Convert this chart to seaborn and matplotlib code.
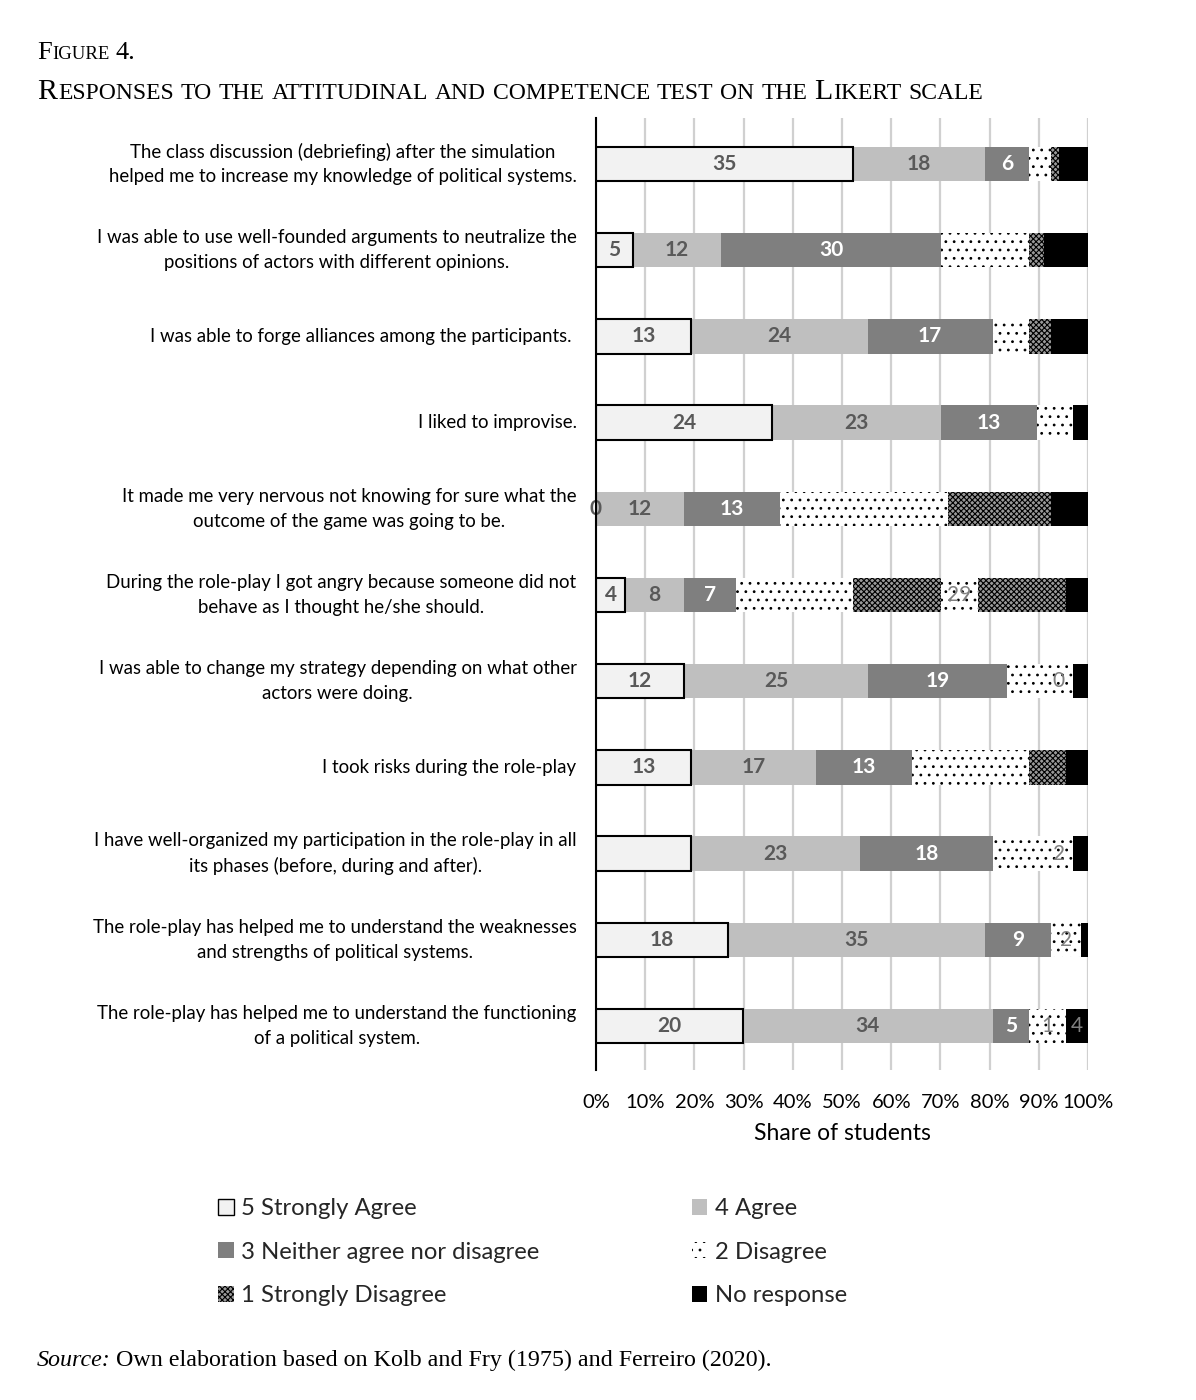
import numpy as np
import pandas as pd
import matplotlib
matplotlib.use("Agg")
import matplotlib.pyplot as plt
import seaborn as sns
from matplotlib.patches import Patch

# ---------------- data (counts of students, 67 per statement) ----------------
statements = [
    "The class discussion (debriefing) after the simulation\nhelped me to increase my knowledge of political systems.",
    "I was able to use well-founded arguments to neutralize the\npositions of actors with different opinions.",
    "I was able to forge alliances among the participants. ",
    "I liked to improvise.",
    "It made me very nervous not knowing for sure what the\noutcome of the game was going to be.",
    "During the role-play I got angry because someone did not\nbehave as I thought he/she should.",
    "I was able to change my strategy depending on what other\nactors were doing.",
    "I took risks during the role-play",
    "I have well-organized my participation in the role-play in all\nits phases (before, during and after).",
    "The role-play has helped me to understand the weaknesses\nand strengths of political systems.",
    "The role-play has helped me to understand the functioning\nof a political system.",
]

strongly_agree          = [35, 5, 13, 24, 0, 4, 12, 13, 13, 18, 20]
agree                   = [18, 12, 24, 23, 12, 8, 25, 17, 23, 35, 34]
neither                 = [6, 30, 17, 13, 13, 7, 19, 13, 18, 9, 5]
disagree                = [3, 12, 5, 5, 23, 16, 5, 16, 7, 0, 0]
strongly_disagree       = [1, 2, 3, 0, 14, 12, 0, 5, 0, 0, 0]
disagree_extra          = [0, 0, 0, 0, 0, 5, 4, 0, 4, 4, 5]
strongly_disagree_extra = [0, 0, 0, 0, 0, 12, 0, 0, 0, 0, 0]
no_response             = [4, 6, 5, 2, 5, 3, 2, 3, 2, 1, 3]

# data labels as printed in the chart
labels_strongly_agree = ["35", "5", "13", "24", "0", "4", "12", "13", "", "18", "20"]
labels_agree          = [str(v) for v in agree]
labels_neither        = [str(v) for v in neither]
labels_disagree_extra = ["", "", "", "", "", "29", "0", "", "2", "2", "1"]
labels_no_response    = ["", "", "", "", "", "", "", "", "", "", "4"]

series_names = ["5 Strongly Agree", "4 Agree", "3 Neither agree nor disagree",
                "2 Disagree", "1 Strongly Disagree", "2 Disagree (b)",
                "1 Strongly Disagree (b)", "No response"]
series_values = [strongly_agree, agree, neither, disagree, strongly_disagree,
                 disagree_extra, strongly_disagree_extra, no_response]
series_labels = [labels_strongly_agree, labels_agree, labels_neither, None, None,
                 labels_disagree_extra, None, labels_no_response]

# ---------------- styles ----------------
styles = {
    "5 Strongly Agree": dict(fc="#f2f2f2", ec="black", lw=1.5, hatch=None),
    "4 Agree": dict(fc="#bfbfbf", ec="#bfbfbf", lw=0, hatch=None),
    "3 Neither agree nor disagree": dict(fc="#7f7f7f", ec="#7f7f7f", lw=0, hatch=None),
    "2 Disagree": dict(fc="white", ec="black", lw=0, hatch=".."),
    "1 Strongly Disagree": dict(fc="#9a9a9a", ec="black", lw=0, hatch="xxxxxx"),
    "2 Disagree (b)": dict(fc="white", ec="black", lw=0, hatch=".."),
    "1 Strongly Disagree (b)": dict(fc="#9a9a9a", ec="black", lw=0, hatch="xxxxxx"),
    "No response": dict(fc="black", ec="black", lw=0, hatch=None),
}
label_colors = {"5 Strongly Agree": "#595959", "4 Agree": "#595959",
                "3 Neither agree nor disagree": "white",
                "2 Disagree (b)": "#808080", "No response": "#808080"}

sns.set_theme(style="white")
plt.rcParams["font.family"] = ["Lato", "DejaVu Sans"]
plt.rcParams["hatch.linewidth"] = 0.8

W, H = 1196, 1400
fig = plt.figure(figsize=(W / 100, H / 100), dpi=100)
ax = fig.add_axes([596 / W, 1 - 1070 / H, (1088 - 596) / W, (1070 - 118) / H])

# ---------------- build cumulative table ----------------
vals = np.array(series_values, dtype=float)          # (series, rows)
totals = vals.sum(axis=0)
pct = vals / totals
cum = np.cumsum(pct, axis=0)
left = cum - pct

rows = []
for si, name in enumerate(series_names):
    for ri, st in enumerate(statements):
        rows.append(dict(statement=st, series=name, cum=cum[si, ri]))
df = pd.DataFrame(rows)

# draw from the longest cumulative bar to the shortest (stacked look)
for name in reversed(series_names):
    sub = df[df["series"] == name]
    stl = styles[name]
    sns.barplot(data=sub, x="cum", y="statement", order=statements, orient="h",
                color=stl["fc"], saturation=1, width=0.4, errorbar=None,
                edgecolor=stl["ec"], linewidth=stl["lw"], hatch=stl["hatch"], ax=ax)

# data labels
for si, name in enumerate(series_names):
    labs = series_labels[si]
    if labs is None:
        continue
    for ri in range(len(statements)):
        if labs[ri] == "":
            continue
        xc = left[si, ri] + pct[si, ri] / 2
        bold = name in ("5 Strongly Agree", "4 Agree", "3 Neither agree nor disagree")
        ax.text(xc, ri, labs[ri], ha="center", va="center", fontsize=15,
                color=label_colors[name], fontweight="bold" if bold else "normal")

ax.set_xlim(0, 1)
ax.set_ylim(len(statements) - 1 + 0.51, -0.534)
ax.set_xticks(np.arange(0, 1.01, 0.1))
ax.set_xticklabels([f"{int(round(v * 100))}%" for v in np.arange(0, 1.01, 0.1)],
                   fontsize=14.5, color="black")
ax.set_xlabel("Share of students", fontsize=16.5, color="black", labelpad=9)
ax.set_ylabel("")
ax.tick_params(axis="x", length=0, pad=17)
ax.tick_params(axis="y", length=0, pad=14)
for t in ax.get_yticklabels():
    t.set_multialignment("center")
    t.set_verticalalignment("center")
    t.set_fontsize(13.4)
    t.set_linespacing(1.55)
    t.set_color("black")
ax.set_axisbelow(True)
ax.xaxis.grid(True, color="#d0d0d0", linewidth=1.6)
ax.yaxis.grid(False)
for s in ["top", "right", "bottom"]:
    ax.spines[s].set_visible(False)
ax.spines["left"].set_color("black")
ax.spines["left"].set_linewidth(1.5)
ax.spines["left"].set_zorder(5)

# ---------------- legend ----------------
legend_order = ["5 Strongly Agree", "3 Neither agree nor disagree", "1 Strongly Disagree",
                "4 Agree", "2 Disagree", "No response"]
handles = []
for name in legend_order:
    stl = styles[name]
    handles.append(Patch(facecolor=stl["fc"], edgecolor=stl["ec"],
                         linewidth=1.0 if name == "5 Strongly Agree" else 0,
                         hatch=stl["hatch"], label=name))
fig.legend(handles=handles, loc="upper left", bbox_to_anchor=(218 / W, 1 - 1198 / H),
           ncol=2, frameon=False, fontsize=17.2, handlelength=0.65, handleheight=0.65,
           handletextpad=0.3, columnspacing=6.4, labelspacing=0.95,
           borderpad=0, borderaxespad=0)

# ---------------- title (small caps) and source ----------------
fig.canvas.draw()
renderer = fig.canvas.get_renderer()


def text_width(s, **kw):
    t = fig.text(0, 0, s, **kw)
    w = t.get_window_extent(renderer).width
    t.remove()
    return w


def draw_smallcaps(x_px, y_px, text, big, small, family):
    runs = []
    for ch in text:
        kind = "space" if ch == " " else ("small" if ch.islower() else "big")
        if runs and runs[-1][0] == kind:
            runs[-1][1] += ch
        else:
            runs.append([kind, ch])
    sw = (text_width("I I", fontsize=small, family=family)
          - text_width("II", fontsize=small, family=family))
    cx = x_px
    for kind, s in runs:
        if kind == "space":
            cx += sw * len(s)
            continue
        size = big if kind == "big" else small
        t = fig.text(cx / W, 1 - y_px / H, s.upper(), fontsize=size, family=family,
                     ha="left", va="baseline", color="black")
        cx += t.get_window_extent(renderer).width + 1


serif = ["Liberation Serif", "DejaVu Serif"]
draw_smallcaps(37, 59, "Figure 4.", 19, 13.5, serif)
draw_smallcaps(37, 99, "Responses to the attitudinal and competence test on the Likert scale", 21.5, 17, serif)

t = fig.text(37 / W, 1 - 1366 / H, "Source:", fontsize=17.3, family=serif,
             style="italic", ha="left", va="baseline", color="black")
wsrc = t.get_window_extent(renderer).width
fig.text((37 + wsrc + 5) / W, 1 - 1366 / H,
         "Own elaboration based on Kolb and Fry (1975) and Ferreiro (2020).",
         fontsize=17.3, family=serif, ha="left", va="baseline", color="black")

fig.savefig("out.png", dpi=100)
